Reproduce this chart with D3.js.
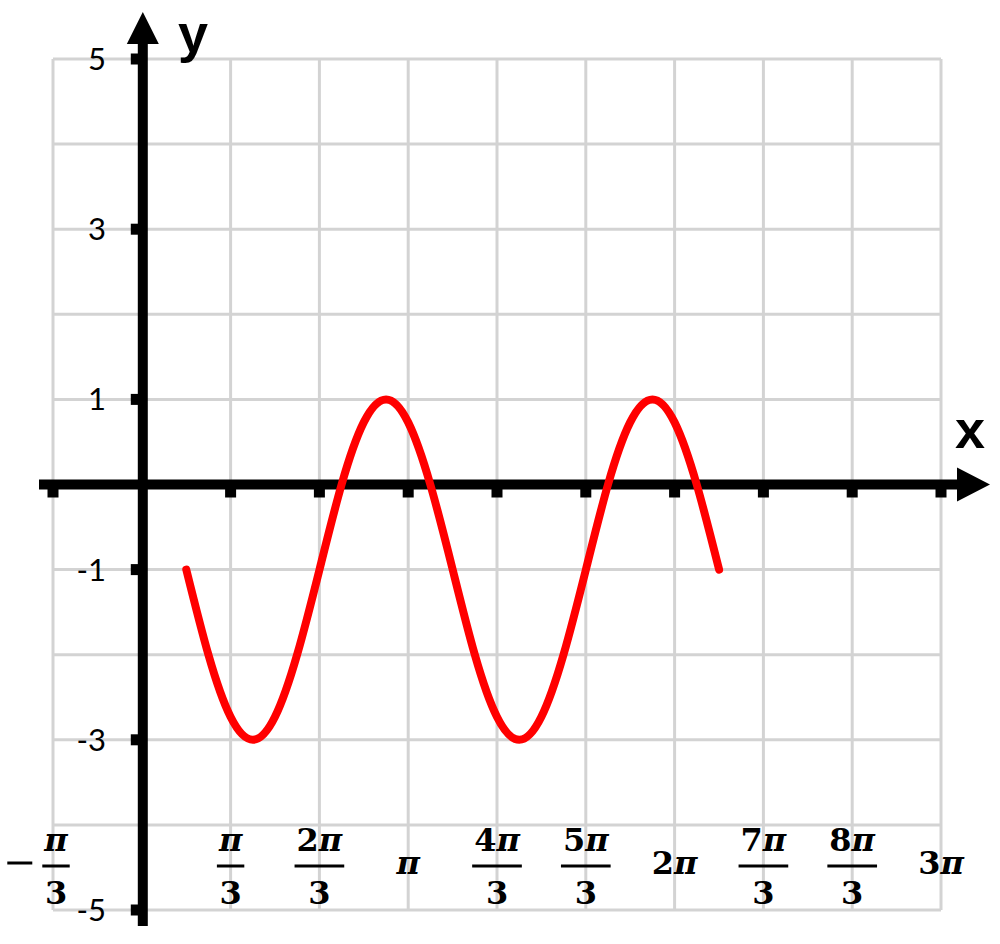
<!DOCTYPE html>
<html>
<head>
<meta charset="utf-8">
<script src="https://cdn.jsdelivr.net/npm/d3@7"></script>
<style>
  html, body { margin: 0; padding: 0; background: #fff; }
</style>
</head>
<body>
<svg width="1000" height="944"></svg>
<script>
// x values are in units of pi
var curveX = [0.167, 0.25, 0.333, 0.417, 0.5, 0.583, 0.667, 0.75, 0.833, 0.917, 1.0, 1.083,
              1.167, 1.25, 1.333, 1.417, 1.5, 1.583, 1.667, 1.75, 1.833, 1.917, 2.0, 2.083, 2.167];
var curveY = [-1, -2, -2.73, -3, -2.73, -2, -1, 0, 0.73, 1, 0.73, 0,
              -1, -2, -2.73, -3, -2.73, -2, -1, 0, 0.73, 1, 0.73, 0, -1];

var xTicks = [-1/3, 1/3, 2/3, 1, 4/3, 5/3, 2, 7/3, 8/3, 3];
var xTickLabels = ['-π/3', 'π/3', '2π/3', 'π', '4π/3', '5π/3', '2π', '7π/3', '8π/3', '3π'];
var yTicks = [5, 3, 1, -1, -3, -5];
var yTickLabels = ['5', '3', '1', '-1', '-3', '-5'];

var svg = d3.select('svg');

var x = d3.scaleLinear().domain([-1/3, 3]).range([53, 941]);
var y = d3.scaleLinear().domain([-5, 5]).range([910, 59]);

// grid
var gridX = d3.range(-1, 10).map(i => i / 3);
var gridY = d3.range(-5, 6);
var grid = svg.append('g').attr('stroke', '#d3d3d3').attr('stroke-width', 3);
grid.selectAll('line.v').data(gridX).enter().append('line')
    .attr('x1', d => x(d)).attr('x2', d => x(d))
    .attr('y1', y(5)).attr('y2', y(-5));
grid.selectAll('line.h').data(gridY).enter().append('line')
    .attr('y1', d => y(d)).attr('y2', d => y(d))
    .attr('x1', x(-1/3)).attr('x2', x(3));

// axes
var x0 = x(0) + 1, y0 = y(0);
svg.append('line').attr('x1', 39).attr('x2', 960).attr('y1', y0).attr('y2', y0)
    .attr('stroke', '#000').attr('stroke-width', 10);
svg.append('path').attr('d', 'M957,' + (y0 - 17) + 'L990,' + y0 + 'L957,' + (y0 + 17) + 'Z').attr('fill', '#000');
svg.append('line').attr('x1', x0).attr('x2', x0).attr('y1', 926).attr('y2', 40)
    .attr('stroke', '#000').attr('stroke-width', 10);
svg.append('path').attr('d', 'M' + (x0 - 16) + ',44L' + x0 + ',12L' + (x0 + 16) + ',44Z').attr('fill', '#000');

// tick marks
svg.selectAll('rect.xt').data(xTicks).enter().append('rect')
    .attr('x', d => x(d) - 5.5).attr('y', y0 + 4).attr('width', 11).attr('height', 9)
    .attr('fill', '#000');
svg.selectAll('rect.yt').data(yTicks).enter().append('rect')
    .attr('x', x0 - 12).attr('y', d => y(d) - 5.5).attr('width', 9).attr('height', 11)
    .attr('fill', '#000');

// y tick labels
svg.selectAll('text.yl').data(yTicks).enter().append('text')
    .attr('x', 106).attr('y', d => y(d) + 11)
    .attr('text-anchor', 'end')
    .style('font-family', 'Lato, "Open Sans", sans-serif')
    .style('font-size', '31px')
    .attr('fill', '#000')
    .text((d, i) => yTickLabels[i]);

// x tick labels (fractions of pi)
var serif = '"DejaVu Serif", "Liberation Serif", serif';
var fs = '32px';
function addPiText(g, str, yy) {
  var t = g.append('text').attr('x', 0).attr('y', yy).attr('text-anchor', 'middle')
      .style('font-family', serif).style('font-size', fs).style('font-weight', 'bold');
  var parts = str.split('π');
  if (parts[0]) t.append('tspan').text(parts[0]);
  t.append('tspan').style('font-style', 'italic').text('π');
  return t;
}
xTickLabels.forEach(function(lab, i) {
  var neg = lab[0] === '-';
  var s = neg ? lab.slice(1) : lab;
  var g = svg.append('g').attr('transform', 'translate(' + x(xTicks[i]) + ',0)');
  if (s.indexOf('/') >= 0) {
    var num = s.split('/')[0], den = s.split('/')[1];
    var t = addPiText(g, num, 851);
    var w = t.node().getComputedTextLength() + 4;
    if (neg) { g.attr('transform', 'translate(' + (x(xTicks[i]) + 3) + ',0)'); }
    g.append('line').attr('x1', -w / 2).attr('x2', w / 2).attr('y1', 866).attr('y2', 866)
        .attr('stroke', '#000').attr('stroke-width', 3);
    g.append('text').attr('x', 0).attr('y', 904).attr('text-anchor', 'middle')
        .style('font-family', serif).style('font-size', fs).style('font-weight', 'bold')
        .text(den);
    if (neg) {
      g.append('line').attr('x1', -w / 2 - 35).attr('x2', -w / 2 - 10).attr('y1', 863).attr('y2', 863)
          .attr('stroke', '#000').attr('stroke-width', 3);
    }
  } else {
    addPiText(g, s, 874);
  }
});

// the red curve
var pts = curveX.map((d, i) => [d, curveY[i]]);
var line = d3.line().x(d => x(d[0])).y(d => y(d[1])).curve(d3.curveNatural);
svg.append('path').datum(pts)
    .attr('d', line)
    .attr('fill', 'none')
    .attr('stroke', '#ff0000')
    .attr('stroke-width', 8)
    .attr('stroke-linecap', 'round')
    .attr('stroke-linejoin', 'round');

// axis names
svg.append('text').attr('x', 178).attr('y', 52)
    .style('font-family', '"Liberation Sans", Arial, sans-serif')
    .style('font-size', '54px').style('font-weight', 'bold').text('y');
svg.append('text').attr('x', 955).attr('y', 448)
    .style('font-family', '"Liberation Sans", Arial, sans-serif')
    .style('font-size', '54px').style('font-weight', 'bold').text('x');
</script>
</body>
</html>
